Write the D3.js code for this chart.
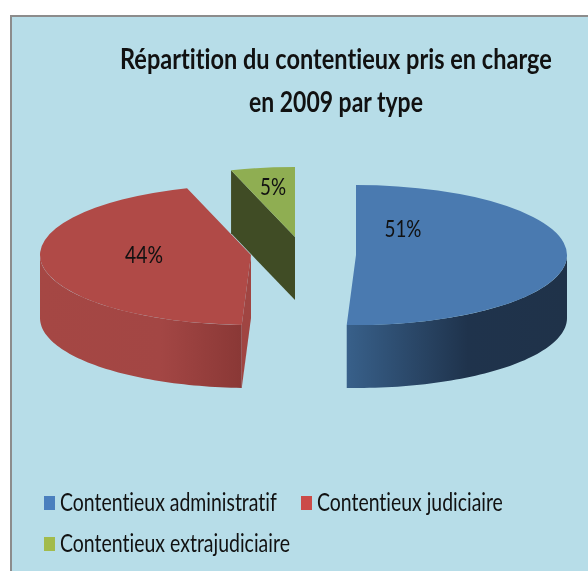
<!DOCTYPE html>
<html>
<head>
<meta charset="utf-8">
<script src="https://cdn.jsdelivr.net/npm/d3@7/dist/d3.min.js"></script>
<style>
    html, body { margin: 0; padding: 0; background: #fff; }
    svg { display: block; filter: blur(0.5px); }
    text { font-family: Lato, "Open Sans", sans-serif; fill: #111; font-variant-ligatures: none; }
</style>
</head>
<body>
<div id="chart"></div>
<script>
    let categories = ['Contentieux administratif', 'Contentieux judiciaire', 'Contentieux extrajudiciaire'];
    // the labels are the rounded figures
    let values = [50.7, 44.4, 4.9];
    let valueLabels = ['51%', '44%', '5%'];
    let titleLines = ['Répartition du contentieux pris en charge', 'en 2009 par type'];

    let topColors = ['#4a7ab0', '#b04a47', '#8fae52'];
    let legendColors = ['#4a7fbe', '#cb4b48', '#a2bb4c'];

    let width = 588, height = 571;
    let rx = 211, ry = 70, depth = 63;

    // pie centres, each slice is pulled out on its own
    let centers = [[356, 255], [251, 255], [295, 237]];
    // label offsets from the slice centre
    let labelOffset = [[47, -18], [-107, 8], [-22, -42]];
    let labelWidth = [37, 38, 26];

    let svg = d3.select('#chart').append('svg')
        .attr('width', width)
        .attr('height', height);

    // the original font is narrower than Lato: squeeze each text to its measured width
    function fitText(selection, x, y, target, anchor) {
        selection.each(function (d, i) {
            let node = d3.select(this);
            let natural = this.getComputedTextLength();
            let left = anchor === 'middle' ? x(d, i) - target(d, i) / 2 : x(d, i);
            node.attr('transform', 'translate(' + left + ',' + y(d, i) + ') scale(' + (target(d, i) / natural) + ',1)');
        });
    }

    // panel
    svg.append('rect')
        .attr('x', 11).attr('y', 16)
        .attr('width', width).attr('height', height)
        .attr('fill', '#b7dde8')
        .attr('stroke', '#8c8c8c')
        .attr('stroke-width', 2);

    // title
    svg.selectAll('.title')
        .data(titleLines)
        .enter()
        .append('text')
        .attr('class', 'title')
        .attr('font-size', 28)
        .attr('font-weight', 700)
        .text(function (d) { return d; })
        .call(fitText,
            function () { return 336; },
            function (d, i) { return 69 + 43 * i; },
            function (d, i) { return i === 0 ? 432 : 174; },
            'middle');

    let pie = d3.pie().sort(null).value(function (d) { return d; });
    let slices = pie(values);

    let defs = svg.append('defs');

    // horizontal shading on the outer walls
    let blueGrad = defs.append('linearGradient').attr('id', 'wall-0');
    blueGrad.append('stop').attr('offset', '0%').attr('stop-color', '#38608a');
    blueGrad.append('stop').attr('offset', '55%').attr('stop-color', '#1f334c');
    blueGrad.append('stop').attr('offset', '100%').attr('stop-color', '#1f3249');

    let redGrad = defs.append('linearGradient').attr('id', 'wall-1');
    redGrad.append('stop').attr('offset', '0%').attr('stop-color', '#a54744');
    redGrad.append('stop').attr('offset', '60%').attr('stop-color', '#a34644');
    redGrad.append('stop').attr('offset', '100%').attr('stop-color', '#8a3836');

    // ellipse position for a pie angle (0 = 12 o'clock, clockwise)
    function ex(i, a) { return centers[i][0] + rx * Math.sin(a); }
    function ey(i, a) { return centers[i][1] - ry * Math.cos(a); }

    let wallArea = d3.area()
        .x(function (d) { return d.x; })
        .y0(function (d) { return d.y; })
        .y1(function (d) { return d.y + depth; });

    let line = d3.line();

    // green: only the inner cut wall shows, drawn before its top
    let g2 = slices[2];
    svg.append('path')
        .attr('d', line([
            [ex(2, g2.startAngle), ey(2, g2.startAngle)],
            [centers[2][0], centers[2][1]],
            [centers[2][0], centers[2][1] + depth],
            [ex(2, g2.startAngle), ey(2, g2.startAngle) + depth]
        ]) + 'Z')
        .attr('fill', '#404c25');

    // outer walls of the blue and red slices (front half only)
    slices.slice(0, 2).forEach(function (s, i) {
        let a0 = Math.max(s.startAngle, Math.PI / 2);
        let a1 = Math.min(s.endAngle, Math.PI * 1.5);
        let pts = d3.range(0, 61).map(function (k) {
            let a = a0 + (a1 - a0) * k / 60;
            return { x: ex(i, a), y: ey(i, a) };
        });
        svg.append('path')
            .attr('d', wallArea(pts))
            .attr('fill', 'url(#wall-' + i + ')');
    });

    // red cut wall to the right of its front edge
    let r1 = slices[1];
    svg.append('path')
        .attr('d', line([
            [centers[1][0], centers[1][1]],
            [ex(1, r1.startAngle), ey(1, r1.startAngle)],
            [ex(1, r1.startAngle), ey(1, r1.startAngle) + depth],
            [centers[1][0], centers[1][1] + depth]
        ]) + 'Z')
        .attr('fill', '#a04542');

    // tops
    let arc = d3.arc().innerRadius(0).outerRadius(rx);
    svg.selectAll('.top')
        .data(slices)
        .enter()
        .append('path')
        .attr('class', 'top')
        .attr('transform', function (d, i) {
            return 'translate(' + centers[i][0] + ',' + centers[i][1] + ') scale(1,' + (ry / rx) + ')';
        })
        .attr('d', arc)
        .attr('fill', function (d, i) { return topColors[i]; });

    // value labels
    svg.selectAll('.value')
        .data(valueLabels)
        .enter()
        .append('text')
        .attr('class', 'value')
        .attr('font-size', 23)
        .text(function (d) { return d; })
        .call(fitText,
            function (d, i) { return centers[i][0] + labelOffset[i][0]; },
            function (d, i) { return centers[i][1] + labelOffset[i][1]; },
            function (d, i) { return labelWidth[i]; },
            'middle');

    // legend
    let legendX = [44, 301, 44];
    let legendY = [503, 503, 544];
    let legendWidth = [217, 186, 230];

    svg.selectAll('.swatch')
        .data(categories)
        .enter()
        .append('rect')
        .attr('class', 'swatch')
        .attr('x', function (d, i) { return legendX[i]; })
        .attr('y', function (d, i) { return legendY[i] - 7; })
        .attr('width', 11)
        .attr('height', 14)
        .attr('fill', function (d, i) { return legendColors[i]; });

    svg.selectAll('.legend')
        .data(categories)
        .enter()
        .append('text')
        .attr('class', 'legend')
        .attr('font-size', 25)
        .text(function (d) { return d; })
        .call(fitText,
            function (d, i) { return legendX[i] + 16; },
            function (d, i) { return legendY[i] + 8; },
            function (d, i) { return legendWidth[i]; },
            'start');
</script>
</body>
</html>
